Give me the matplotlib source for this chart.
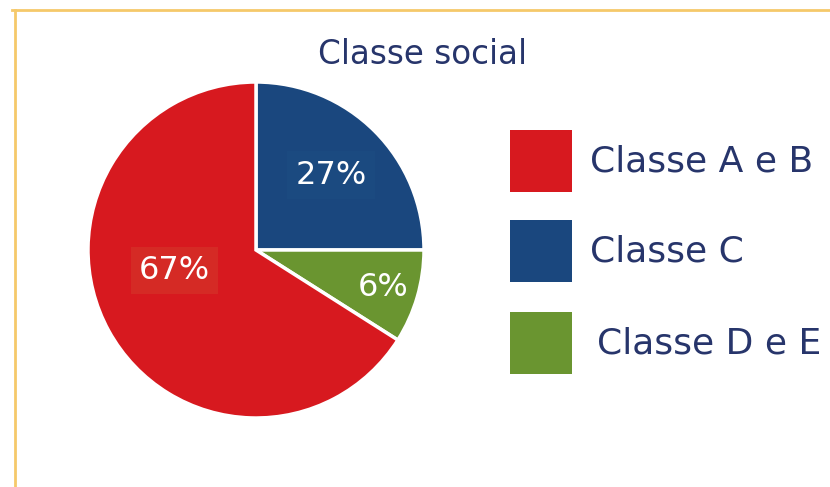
import numpy as np
import matplotlib.pyplot as plt
from matplotlib.patches import Rectangle
from matplotlib.lines import Line2D

# data (wedge order: clockwise from 12 o'clock)
categories = ["Classe C", "Classe D e E", "Classe A e B"]
shares = [25, 9, 66]            # slice sizes as drawn
labels = ["27%", "6%", "67%"]   # printed labels
colors = ["#1A477E", "#6A9530", "#D7191F"]

legend_order = ["Classe A e B", "Classe C", "Classe D e E"]

W, H = 830, 487
fig = plt.figure(figsize=(W / 100, H / 100), dpi=100)
fig.patch.set_facecolor("white")
plt.rcParams['font.family'] = ['DejaVu Sans']
txt_col = "#27356B"

# yellow frame on top and left
fig.add_artist(Line2D([12 / W, 1], [1 - 10 / H, 1 - 10 / H], color="#F5C96A", lw=2))
fig.add_artist(Line2D([15 / W, 15 / W], [0, 1 - 10 / H], color="#F5C96A", lw=2))

fig.text(423 / W, 1 - 55 / H, "Classe social", ha="center", va="center",
         fontsize=23.5, color=txt_col)

# pie
cx, cy, r = 256, 250, 168
ax = fig.add_axes([(cx - r) / W, (H - cy - r) / H, 2 * r / W, 2 * r / H])
wedges, _ = ax.pie(shares, colors=colors, startangle=90, counterclock=False,
                   wedgeprops=dict(edgecolor="white", linewidth=2.5))
ax.set_xlim(-1, 1)
ax.set_ylim(-1, 1)
ax.set_aspect("auto")
ax.axis("off")

dist = [0.63, 0.79, 0.5]
boxc = ["#1B4A80", None, "#D52A25"]
for w, lab, d, bc in zip(wedges, labels, dist, boxc):
    ang = np.deg2rad((w.theta1 + w.theta2) / 2)
    if lab == "67%":
        ang = np.deg2rad(194)
    bbox = dict(facecolor=bc, edgecolor="none", pad=6) if bc else None
    ax.text(d * np.cos(ang), d * np.sin(ang), lab, ha="center", va="center",
            fontsize=23, color="white", bbox=bbox)

# legend
ys = [161, 251, 343]
for name, y in zip(legend_order, ys):
    c = colors[categories.index(name)]
    fig.add_artist(Rectangle((510 / W, (H - y - 31) / H), 62 / W, 62 / H,
                             facecolor=c, edgecolor="none"))
    fig.text((590 if name != "Classe D e E" else 597) / W, 1 - y / H, name,
             ha="left", va="center", fontsize=26, color=txt_col)

fig.savefig("out.png", dpi=100)
